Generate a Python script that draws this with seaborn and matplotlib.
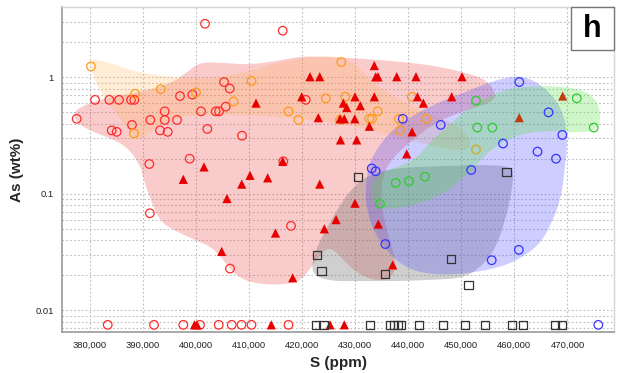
import numpy as np
import pandas as pd
import matplotlib
matplotlib.use("Agg")
import matplotlib.pyplot as plt
import seaborn as sns
from matplotlib.ticker import FixedLocator, LogLocator, NullFormatter, FuncFormatter
from matplotlib.patches import Rectangle

# ---------------- data (S in ppm, As in wt%; 0.0075 = plotted below detection) -------------
red_circle_S = [401750, 416380, 377590, 381040, 383730, 385550, 387810, 388440, 384180, 385120,
                388000, 391450, 393280, 394730, 394160, 394160, 396480, 397040, 399360, 401000,
                402180, 403760, 404390, 405330, 406400, 405650, 408720, 391260, 398870, 416490,
                420710, 391370, 417940, 406460,
                383430, 392150, 397660, 400810, 404330, 406780, 408620, 410500, 417470]
red_circle_As = [2.88, 2.51, 0.44, 0.64, 0.64, 0.64, 0.64, 0.64, 0.35, 0.34,
                 0.39, 0.43, 0.35, 0.34, 0.51, 0.43, 0.43, 0.69, 0.71, 0.51,
                 0.36, 0.51, 0.51, 0.91, 0.80, 0.56, 0.315, 0.18, 0.20, 0.19,
                 0.64, 0.068, 0.053, 0.0228,
                 0.0075, 0.0075, 0.0075, 0.0075, 0.0075, 0.0075, 0.0075, 0.0075, 0.0075]

orange_circle_S = [380280, 388570, 388380, 393410, 400050, 407120, 410500, 417470, 419350, 424490,
                   427410, 428170, 427170, 434270, 432690, 433190, 438280, 438470, 440690, 443360,
                   452780]
orange_circle_As = [1.24, 0.72, 0.33, 0.79, 0.74, 0.62, 0.93, 0.51, 0.43, 0.66,
                    1.35, 0.68, 0.43, 0.51, 0.44, 0.44, 0.44, 0.35, 0.68, 0.44,
                    0.24]

red_tri_S = [421520, 423350, 419960, 411350, 423080, 416380, 401560, 433630, 433890, 434330,
             437850, 441480, 450140, 429990, 433630, 441760, 448200, 427790, 428430, 430990,
             427170, 427980, 429940, 432690, 427260, 430310, 442860, 440730, 439730, 469100,
             460920, 410220, 408660, 413550, 405890, 423350, 424210, 426420, 415020, 404890,
             418260, 397660, 429990, 434380, 437090,
             399770, 400240, 414230, 425290, 427980]
red_tri_As = [1.01, 1.01, 0.68, 0.60, 0.45, 0.19, 0.17, 1.26, 1.01, 1.01,
              1.01, 1.01, 1.01, 0.68, 0.68, 0.68, 0.68, 0.60, 0.55, 0.57,
              0.44, 0.44, 0.44, 0.38, 0.29, 0.29, 0.60, 0.34, 0.22, 0.69,
              0.45, 0.144, 0.121, 0.137, 0.091, 0.121, 0.050, 0.060, 0.046, 0.032,
              0.019, 0.133, 0.083, 0.055, 0.0245,
              0.0075, 0.0075, 0.0075, 0.0075, 0.0075]

green_circle_S = [452780, 453020, 455850, 471760, 474940, 437660, 440160, 443180, 434700]
green_circle_As = [0.63, 0.37, 0.37, 0.66, 0.37, 0.124, 0.128, 0.14, 0.082]

blue_circle_S = [460930, 466430, 469030, 457860, 464360, 467840, 451870, 446130, 438980, 433140,
                 433890, 435700, 455730, 460840, 475810]
blue_circle_As = [0.91, 0.50, 0.32, 0.27, 0.23, 0.20, 0.16, 0.39, 0.44, 0.165,
                  0.156, 0.037, 0.0269, 0.033, 0.0075]

square_S = [430620, 448010, 435640, 451370, 458520, 422840, 423690,
            422590, 424060, 432870, 436640, 437390, 438150, 438710, 442100, 446620,
            450760, 454420, 459500, 461680, 467650, 469030]
square_As = [0.14, 0.0274, 0.0204, 0.0165, 0.155, 0.0297, 0.0217,
             0.0075, 0.0075, 0.0075, 0.0075, 0.0075, 0.0075, 0.0075, 0.0075, 0.0075,
             0.0075, 0.0075, 0.0075, 0.0075, 0.0075, 0.0075]

# field outlines (S in thousand ppm, As wt%)
red_field_S = [376.9, 379.5, 383.9, 389.5, 395.2, 398.4, 400.8, 405.1, 410.2, 416.4, 420.2, 425.9,
               434.7, 444.1, 450.3, 454.9, 456.7, 455.4, 450.7, 445.1, 440.9, 437.5, 435.1, 434.9,
               436.2, 437.9, 436.6, 432.8, 429.1, 425.3, 423.0, 421.1, 419.3, 415.5, 410.6, 407.4,
               404.9, 403.1, 400.8, 396.5, 393.3, 391.4, 390.1, 389.5, 387.1, 383.9, 380.7, 377.6]
red_field_As = [0.504, 0.59, 0.677, 0.748, 0.876, 1.11, 1.35, 1.33, 1.28, 1.41, 1.52, 1.49,
                1.41, 1.28, 1.11, 0.95, 0.70, 0.60, 0.52, 0.41, 0.29, 0.215, 0.145, 0.080,
                0.0443, 0.0244, 0.0182, 0.0182, 0.0231, 0.0364, 0.0281, 0.0213, 0.0175, 0.0165,
                0.0171, 0.0201, 0.0281, 0.0343, 0.0386, 0.047, 0.0573, 0.092, 0.137, 0.177,
                0.252, 0.30, 0.339, 0.405]

orange_field_S = [379.7, 383.9, 388.2, 393.3, 398.9, 404.6, 410.2, 415.9, 421.5, 427.2, 430.0,
                  432.8, 435.6, 438.5, 441.3, 444.5, 448.3, 450.9, 452.0, 450.3, 444.1, 437.9,
                  431.5, 425.3, 419.6, 410.2, 400.2, 396.5, 393.3, 390.8, 388.9, 388.0, 385.7,
                  383.9, 382.0, 380.5]
orange_field_As = [1.46, 1.33, 1.13, 1.03, 0.967, 1.0, 1.13, 1.35, 1.49, 1.52, 1.30,
                   0.95, 0.76, 0.64, 0.545, 0.475, 0.405, 0.333, 0.262, 0.229, 0.262, 0.307,
                   0.367, 0.413, 0.44, 0.475, 0.475, 0.447, 0.39, 0.32, 0.29, 0.32, 0.447,
                   0.578, 0.748, 1.11]

gray_field_S = [422.1, 421.9, 423.0, 424.7, 426.6, 429.1, 432.4, 437.5, 446.0, 453.5, 459.2,
                459.9, 459.2, 458.0, 456.3, 453.5, 450.3, 444.1, 437.9, 430.9, 425.3]
gray_field_As = [0.0201, 0.026, 0.0364, 0.0508, 0.0726, 0.1077, 0.145, 0.166, 0.173, 0.177, 0.173,
                 0.145, 0.0883, 0.054, 0.0329, 0.0231, 0.0189, 0.0182, 0.0178, 0.0178, 0.0178]

blue_field_S = [453.5, 457.9, 461.1, 464.3, 467.3, 469.2, 469.9, 469.9, 469.5, 469.0, 467.7,
                465.2, 461.4, 456.9, 451.6, 446.5, 441.6, 437.9, 434.7, 432.8, 431.9, 432.3,
                433.4, 435.6, 437.9, 441.7, 446.0, 450.3]
blue_field_As = [0.842, 0.986, 1.03, 0.911, 0.69, 0.494, 0.333, 0.238, 0.17, 0.1035, 0.0658,
                 0.0386, 0.0281, 0.0231, 0.0209, 0.0201, 0.0213, 0.026, 0.0386, 0.0573, 0.092, 0.16,
                 0.215, 0.30, 0.382, 0.494, 0.614, 0.733]

green_field_S = [434.7, 432.8, 433.2, 435.1, 438.5, 441.7, 444.1, 447.3, 451.6, 455.4, 459.2,
                 464.8, 469.5, 472.9, 475.6, 476.3, 475.6, 471.8, 468.6, 462.9, 459.2, 455.4,
                 451.6, 447.3, 440.9]
green_field_As = [0.0726, 0.092, 0.126, 0.154, 0.173, 0.203, 0.278, 0.374, 0.556, 0.69, 0.81,
                  0.842, 0.826, 0.778, 0.638, 0.447, 0.353, 0.333, 0.346, 0.339, 0.30, 0.238,
                  0.154, 0.1035, 0.0786]

x_ticks = [380000, 390000, 400000, 410000, 420000, 430000, 440000, 450000, 460000, 470000]
y_ticks = [0.01, 0.1, 1]
y_tick_labels = ["0.01", "0.1", "1"]

# ---------------- style ----------------
sns.set_style("white")
plt.rcParams['font.family'] = ['Liberation Sans', 'DejaVu Sans']

fig = plt.figure(figsize=(6.32, 3.73), dpi=100)
ax = fig.add_axes([62 / 632, 1 - 332 / 373, 552 / 632, 325 / 373])


def smooth_outline(xs_k, ys, n=3):
    pts = np.column_stack([np.asarray(xs_k, float) * 1000.0, np.log10(ys)])
    for _ in range(n):
        nxt = np.roll(pts, -1, axis=0)
        q = 0.75 * pts + 0.25 * nxt
        r = 0.25 * pts + 0.75 * nxt
        new = np.empty((2 * len(pts), 2))
        new[0::2] = q
        new[1::2] = r
        pts = new
    return pts[:, 0], 10 ** pts[:, 1]


fields = [
    (red_field_S, red_field_As, (0.93, 0.2, 0.2), 0.25, 1.0),
    (orange_field_S, orange_field_As, (1.0, 0.68, 0.28), 0.22, 1.1),
    (gray_field_S, gray_field_As, (0.45, 0.45, 0.45), 0.34, 1.2),
    (blue_field_S, blue_field_As, (0.25, 0.25, 1.0), 0.26, 1.3),
    (green_field_S, green_field_As, (0.3, 0.88, 0.22), 0.27, 2.5),
]
for fs, fa, col, al, z in fields:
    xs, ys = smooth_outline(fs, fa)
    ax.fill(xs, ys, color=col, alpha=al, lw=0, zorder=z)

df_rc = pd.DataFrame({"S": red_circle_S, "As": red_circle_As})
df_oc = pd.DataFrame({"S": orange_circle_S, "As": orange_circle_As})
df_rt = pd.DataFrame({"S": red_tri_S, "As": red_tri_As})
df_gc = pd.DataFrame({"S": green_circle_S, "As": green_circle_As})
df_bc = pd.DataFrame({"S": blue_circle_S, "As": blue_circle_As})
df_sq = pd.DataFrame({"S": square_S, "As": square_As})

sns.scatterplot(data=df_rc, x="S", y="As", ax=ax, marker="o", s=38, facecolors="none",
                edgecolor="#ff2b2b", linewidth=0.9, zorder=2, legend=False)
sns.scatterplot(data=df_oc, x="S", y="As", ax=ax, marker="o", s=38, facecolors="none",
                edgecolor="#ff9a1a", linewidth=0.9, zorder=2, legend=False)
sns.scatterplot(data=df_rt, x="S", y="As", ax=ax, marker="^", s=44, color="#e80000",
                edgecolor="none", linewidth=0, zorder=2, legend=False)
sns.scatterplot(data=df_gc, x="S", y="As", ax=ax, marker="o", s=38, facecolors="none",
                edgecolor="#2ecc2e", linewidth=0.9, zorder=3, legend=False)
sns.scatterplot(data=df_bc, x="S", y="As", ax=ax, marker="o", s=38, facecolors="none",
                edgecolor="#3434ff", linewidth=0.9, zorder=3, legend=False)
sns.scatterplot(data=df_sq, x="S", y="As", ax=ax, marker="s", s=34, facecolors="none",
                edgecolor="#333333", linewidth=0.9, zorder=3, legend=False)

ax.set_yscale("log")
ax.set_xlim(374820, 478760)
ax.set_ylim(0.00651, 4.01)

ax.xaxis.set_major_locator(FixedLocator(x_ticks))
ax.xaxis.set_major_formatter(FuncFormatter(lambda v, p: f"{int(round(v)):,}"))
ax.yaxis.set_major_locator(FixedLocator(y_ticks))
ax.yaxis.set_major_formatter(FuncFormatter(
    lambda v, p: y_tick_labels[y_ticks.index(min(y_ticks, key=lambda t: abs(np.log10(t) - np.log10(v))))]))
ax.yaxis.set_minor_locator(LogLocator(base=10, subs=np.arange(2, 10) * 1.0, numticks=20))
ax.yaxis.set_minor_formatter(NullFormatter())

ax.tick_params(axis="both", which="both", length=0, labelsize=6.8, colors="#222222")
ax.tick_params(axis="x", pad=6)
ax.tick_params(axis="y", pad=6)

grid_kw = dict(color="#bdbdbd", linestyle=(0, (1.5, 2.0)), linewidth=0.8)
ax.grid(True, which="major", axis="x", **grid_kw)
ax.grid(True, which="both", axis="y", **grid_kw)
ax.set_axisbelow(True)

for side in ["left", "bottom"]:
    ax.spines[side].set_color("#9a9a9a")
    ax.spines[side].set_linewidth(1.2)
for side in ["top", "right"]:
    ax.spines[side].set_color("#d4d4d4")
    ax.spines[side].set_linewidth(1.0)

ax.set_xlabel("S (ppm)", fontsize=11, fontweight="bold", labelpad=5)
ax.set_ylabel("As (wt%)", fontsize=11, fontweight="bold", labelpad=8)

# panel label
ax.add_patch(Rectangle((0.922, 0.868), 0.078, 0.132, transform=ax.transAxes,
                       facecolor="white", edgecolor="#777777", linewidth=1.0, zorder=5,
                       clip_on=False))
ax.text(0.961, 0.933, "h", transform=ax.transAxes, ha="center", va="center",
        fontsize=22, fontweight="bold", color="black", zorder=6)

fig.savefig("out.png", dpi=100)
